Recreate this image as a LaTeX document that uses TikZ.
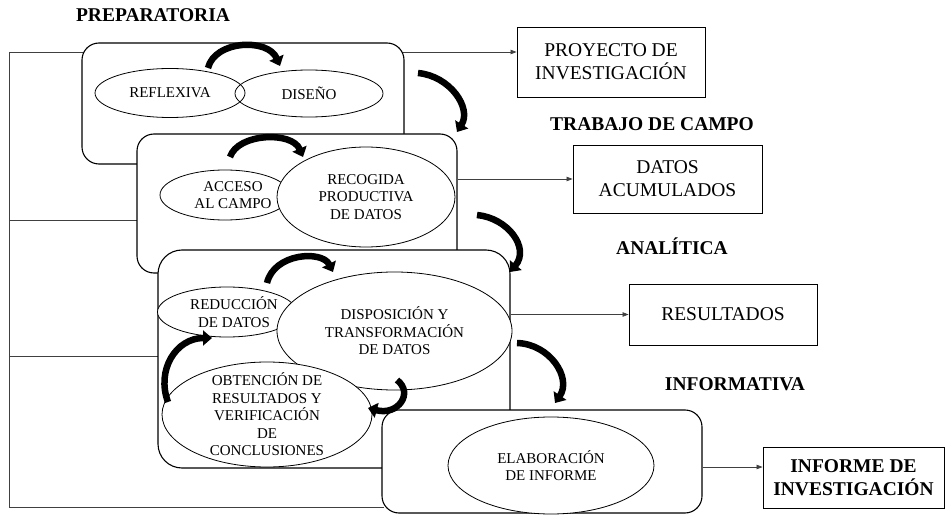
\documentclass[tikz,border=0pt]{standalone}
\usepackage{fontspec}
\setmainfont{Liberation Serif}
\usetikzlibrary{arrows.meta,shapes.geometric}

\begin{document}
\begin{tikzpicture}[x=1pt, y=-1pt, every node/.style={inner sep=0pt},
	stage/.style={draw, fill=white, line width=1.1pt, rounded corners=17pt},
	oval/.style={ellipse, draw, fill=white, line width=0.8pt},
	txt/.style={font=\fontsize{15}{17.5}\selectfont, align=center},
	outbox/.style={draw, line width=0.9pt, align=center, font=\fontsize{19.5}{23}\selectfont},
	head/.style={font=\fontsize{19.5}{23}\selectfont\bfseries},
	link/.style={line width=0.7pt, draw=black!75},
	tip/.style={-{Triangle[length=6pt,width=4.5pt]}},
	cyc/.style={line width=6.5pt, -{Triangle[length=9pt,width=15pt]}}]
	\useasboundingbox (0,0) rectangle (946,516);

	% left bracket
	\coordinate (sp1) at (9,52);
	\coordinate (sp2) at (9,220);
	\coordinate (sp3) at (9,356);
	\coordinate (sp4) at (9,507);
	\node[outbox, minimum width=188pt, minimum height=70pt] (proy) at (611,62) {PROYECTO DE\\INVESTIGACIÓN};
	\draw[link] (sp1) -- (sp4);
	\draw[link, tip] (sp1) -- (sp1 -| proy.west);
	\draw[link] (sp2) -- ++(130,0);
	\draw[link] (sp3) -- ++(150,0);
	\draw[link] (sp4) -- ++(375,0);

	% preparatoria
	\node[stage, minimum width=322pt, minimum height=121pt] (prep) at (243,103.5) {};
	\node[oval, minimum width=150pt, minimum height=49pt, label={[txt]center:REFLEXIVA}] (refl) at (170,93) {};
	\node[oval, fill=none, minimum width=148pt, minimum height=47pt, label={[txt]center:DISEÑO}] (dis) at (309,93.5) {};

	% trabajo de campo
	\node[stage, minimum width=320pt, minimum height=139pt] (campo) at (297,203.5) {};
	\node[oval, minimum width=130pt, minimum height=50pt, label={[txt, xshift=8pt]center:ACCESO\\AL CAMPO}] (acc) at (225,195) {};
	\node[oval, minimum width=178pt, minimum height=100pt, label={[txt]center:RECOGIDA\\PRODUCTIVA\\DE DATOS}] (rec) at (366,197) {};

	% analitica
	\node[stage, rounded corners=24pt, minimum width=352pt, minimum height=218pt] (anal) at (334,359) {};
	\node[oval, minimum width=139pt, minimum height=50pt, label={[txt, xshift=7pt]center:REDUCCIÓN\\DE DATOS}] (red) at (227,312) {};
	\node[oval, minimum width=235pt, minimum height=118pt, label={[txt]center:DISPOSICIÓN Y\\TRANSFORMACIÓN\\DE DATOS}] (disp) at (394.5,331) {};
	\node[oval, minimum width=210pt, minimum height=105pt, label={[txt]center:OBTENCIÓN DE\\RESULTADOS Y\\VERIFICACIÓN\\DE\\CONCLUSIONES}] (obt) at (267,414.5) {};

	% informativa
	\node[stage, minimum width=320pt, minimum height=103pt] (info) at (542,461.5) {};
	\node[oval, minimum width=206pt, minimum height=97pt, label={[txt]center:ELABORACIÓN\\DE INFORME}] (elab) at (551,465.5) {};

	% cycle arrows
	\foreach \a/\b/\c/\d in {{(208,68)/(215,40)/(268,38)/(280,66)}, {(418,73)/(450,76)/(472,108)/(457,132)},
		{(230,157)/(238,133)/(292,131)/(303,157)}, {(477,215)/(508,218)/(530,248)/(510,272)},
		{(267,283)/(274,253)/(322,250)/(333,272)}, {(168,402)/(156,370)/(176,338)/(212,338)},
		{(397,380)/(414,393)/(398,416)/(368,408)}, {(517,343)/(550,344)/(572,378)/(555,403)}}
		\draw[cyc] \a .. controls \b and \c .. \d;

	% results
	\node[outbox, minimum width=189pt, minimum height=68pt] (datos) at (667.5,179) {DATOS\\ACUMULADOS};
	\node[outbox, minimum width=188pt, minimum height=61pt] (res) at (723,314.5) {RESULTADOS};
	\node[outbox, font=\fontsize{19.5}{23}\selectfont\bfseries, minimum width=181pt, minimum height=61pt] (infinv) at (853.5,477.5) {INFORME DE\\INVESTIGACIÓN};
	\draw[link, tip] (campo.east |- datos.west) -- (datos.west);
	\draw[link, tip] (anal.east |- res.west) -- (res.west);
	\draw[link, tip] (info.east |- 0,467) -- (infinv.west |- 0,467);

	\node[head] (hprep) at (153,15) {PREPARATORIA};
	\node[head] (hcampo) at (652,124) {TRABAJO DE CAMPO};
	\node[head] (hanal) at (672,246) {ANALÍTICA};
	\node[head] (hinfo) at (735,384) {INFORMATIVA};
\end{tikzpicture}
\end{document}
